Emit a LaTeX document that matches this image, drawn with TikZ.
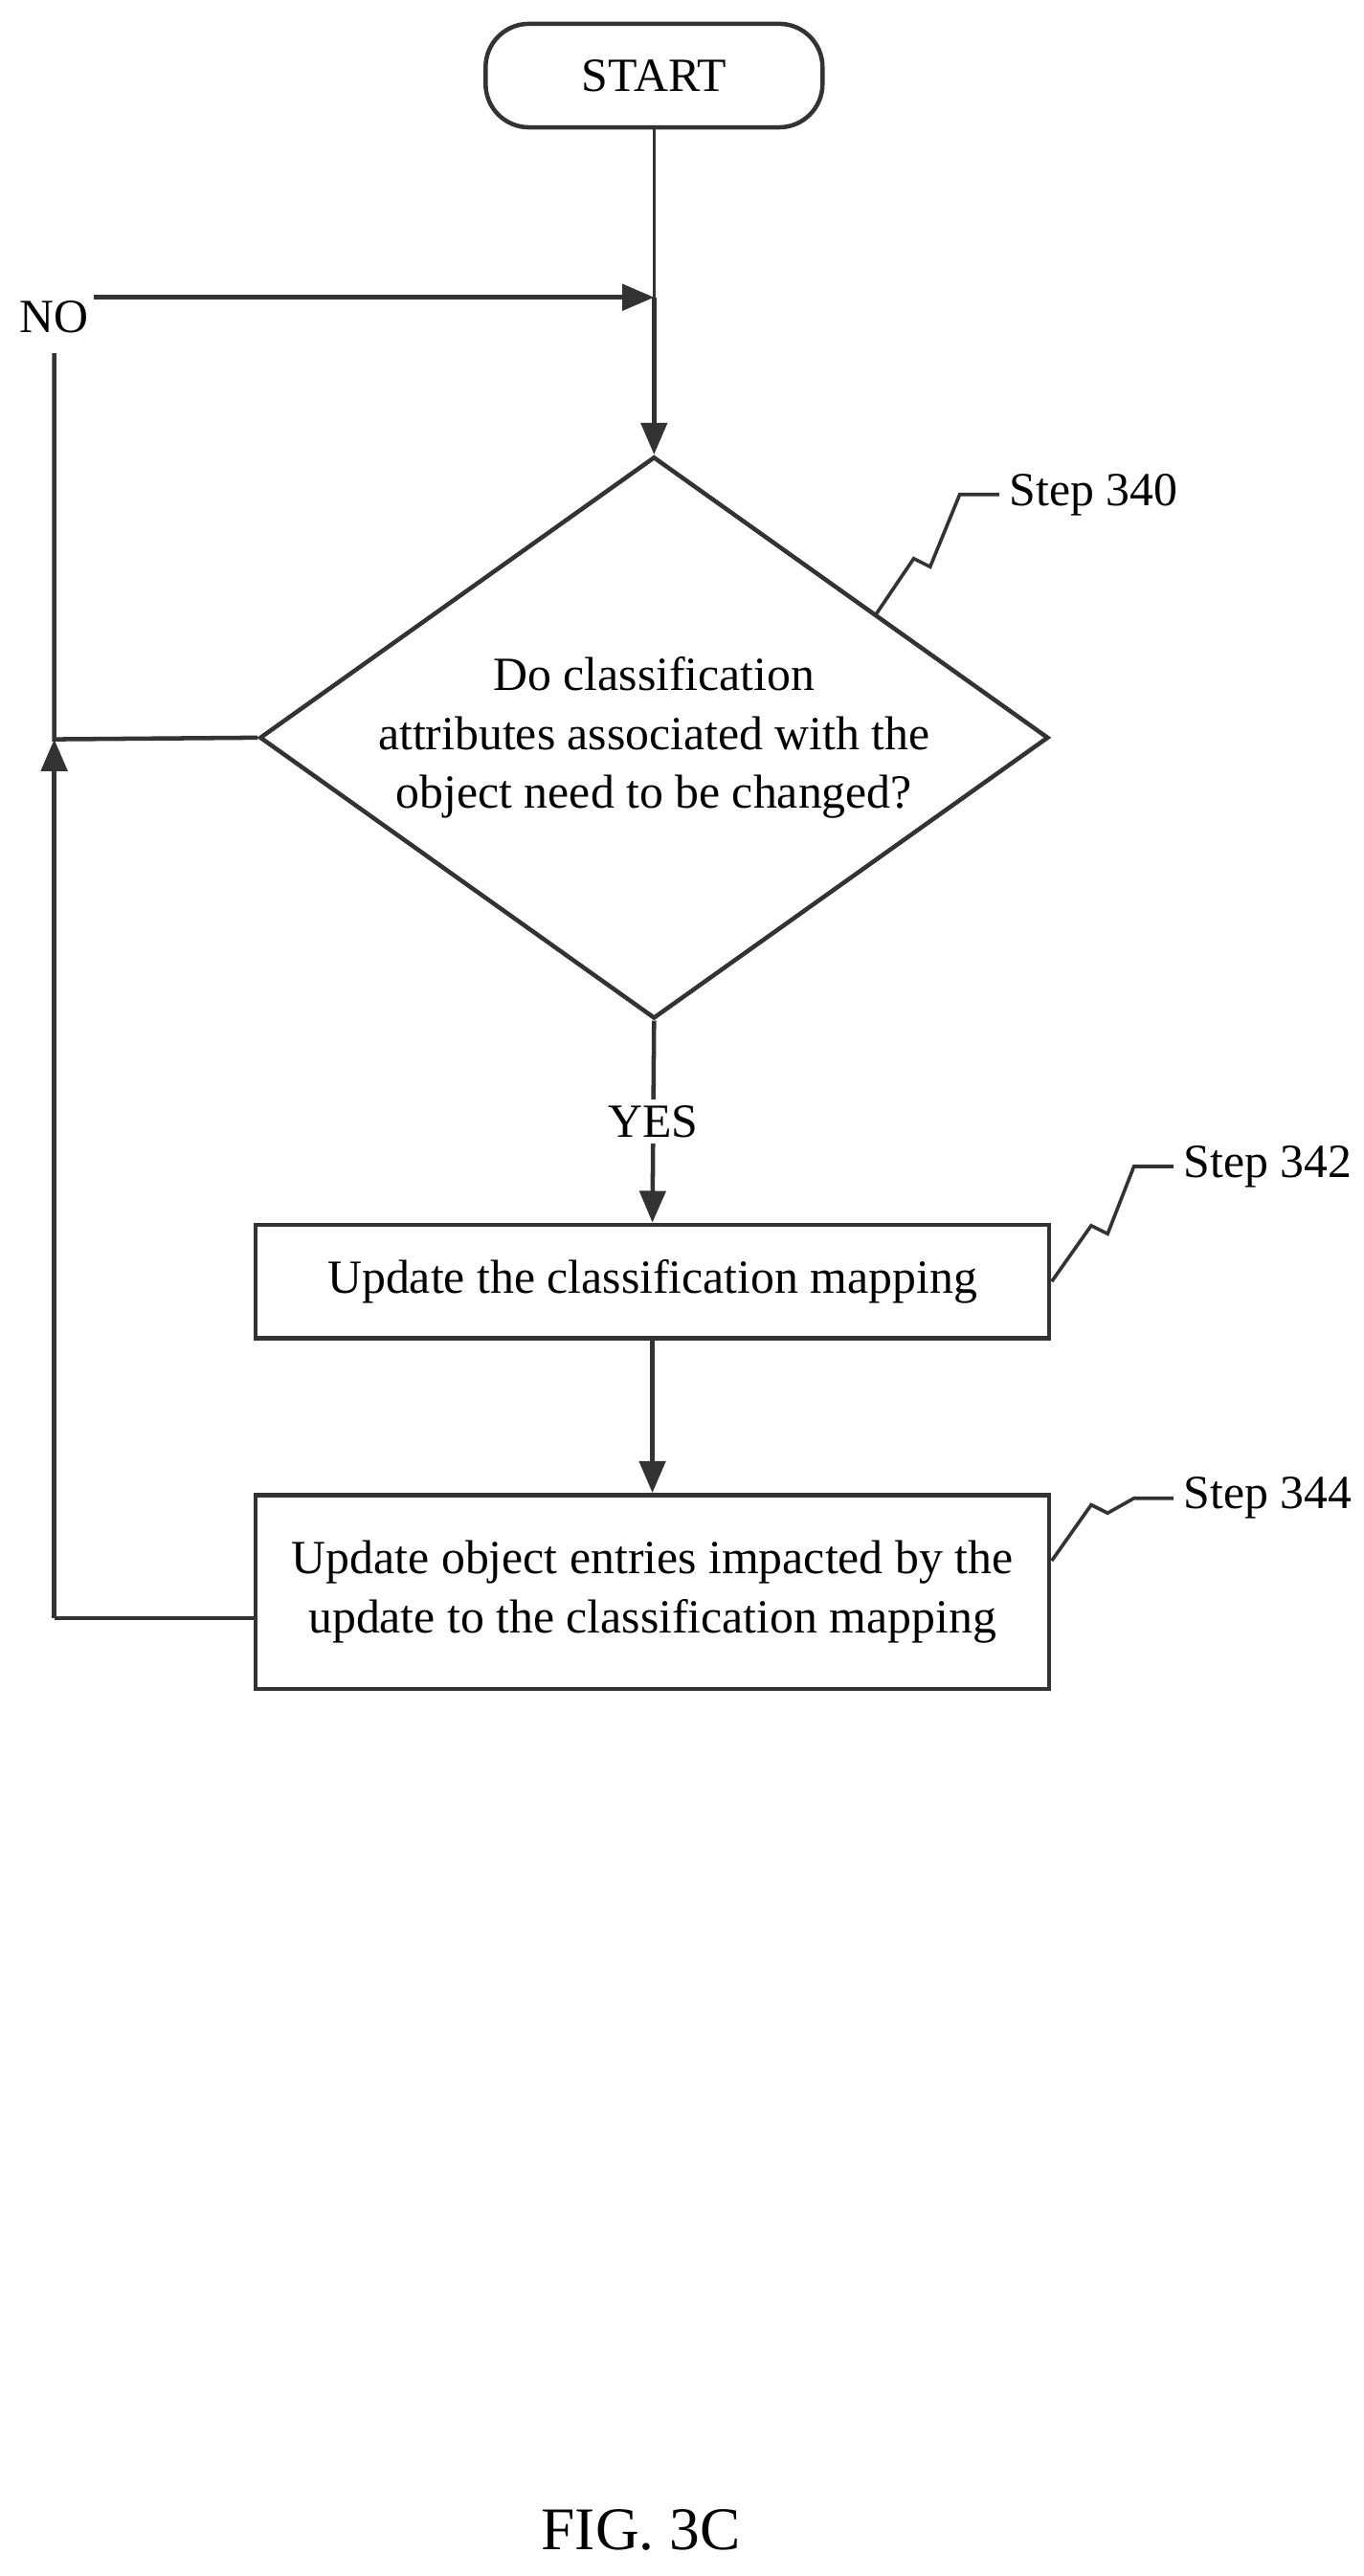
\documentclass[tikz,border=0pt]{standalone}
\usepackage{fontspec}
\setmainfont{Liberation Serif}
\usetikzlibrary{arrows.meta, positioning, shapes.geometric}

\tikzset{
  flow/.style={draw, line width=1.5pt, color=black!80, text=black, font=\fontsize{16.5}{20.5}\selectfont, align=center},
  arr/.style={line width=1.5pt, color=black!80, -{Triangle[length=11pt,width=9pt]}},
  lead/.style={line width=1.2pt, color=black!80},
  lbl/.style={font=\fontsize{16.5}{20.5}\selectfont, anchor=west}
}

\begin{document}
\begin{tikzpicture}[x=0.02cm, y=-0.02cm]
\useasboundingbox (0,0) rectangle (830,1568);
\node[flow, rounded corners=15pt, minimum width=205*0.02cm, minimum height=63*0.02cm] (start) at (398,46) {START};
\node[flow, diamond, aspect=1.4, minimum width=480*0.02cm, minimum height=342*0.02cm, inner sep=0pt] (dec) at (398,449) {Do classification\\attributes associated with the\\object need to be changed?};
\node[flow, minimum width=483*0.02cm, minimum height=69*0.02cm] (upmap) at (397,780) {Update the classification mapping};
\node[flow, minimum width=483*0.02cm, minimum height=118*0.02cm] (upobj) at (397,969) {Update object entries impacted by the\\update to the classification mapping};
\coordinate (join) at (398,181);
\coordinate (nostart) at (57,181);
\coordinate (loopbot) at (33,985);
\coordinate (looptop) at (33,215);
\coordinate (loopmid) at (33,450);
% main flow
\draw[lead] (start) -- (join);
\draw[arr] (join) -- (dec.north);
\draw[arr] (nostart) -- (join);
\node (no) at (33,193) {\fontsize{16.5}{20.5}\selectfont NO};
\draw[arr] (dec.south) -- (upmap.north) node[pos=0.5, fill=white, text=black, inner sep=2pt] (yes) {\fontsize{16.5}{20.5}\selectfont YES};
\draw[arr] (upmap) -- (upobj);
% loop back
\draw[lead, line width=1.5pt] (upobj.west |- loopbot) -- (loopbot);
\draw[arr] (loopbot) -- (loopmid);
\draw[lead, line width=1.5pt] (dec.west) -- (loopmid) -- (looptop);
% step labels
\node[lbl] (s340) at (608,301) {Step 340};
\node[lbl] (s342) at (714,710) {Step 342};
\node[lbl] (s344) at (714,912) {Step 344};
\draw[lead] (533,374) -- (556,340) -- (566,345) -- (584,301) -- (s340.west);
\draw[lead] (640,780) -- (664,746) -- (674,751) -- (690,710) -- (s342.west);
\draw[lead] (640,950) -- (664,916) -- (674,921) -- (690,912) -- (s344.west);
\node (fig) at (390,1540) {\fontsize{21}{25}\selectfont FIG. 3C};
\end{tikzpicture}
\end{document}
